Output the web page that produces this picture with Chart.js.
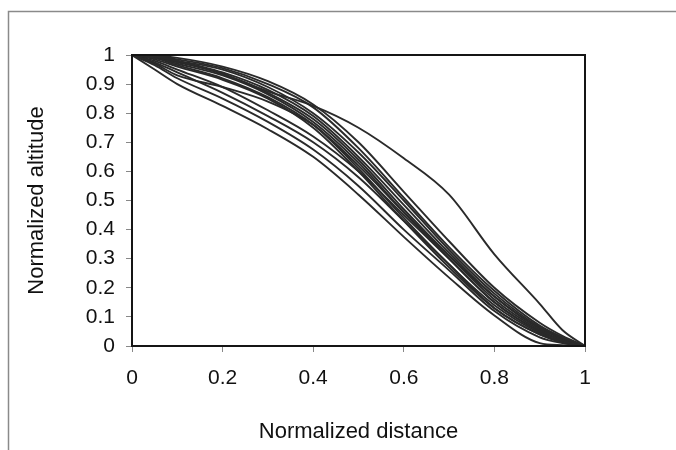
<!DOCTYPE html>
<html>
<head>
<meta charset="utf-8">
<script src="https://cdn.jsdelivr.net/npm/chart.js@4"></script>
<style>
  html, body { margin: 0; padding: 0; background: #fff; }
  #wrap { width: 676px; height: 450px; position: relative; }
</style>
</head>
<body>
<div id="wrap"><canvas id="c" width="676" height="450"></canvas></div>
<script>
// Normalized distance sample points
const xs = [0, 0.05, 0.1, 0.2, 0.3, 0.4, 0.5, 0.6, 0.7, 0.8, 0.9, 0.95, 1];

// Upper outlier curve
const curveO  = [1, 0.995, 0.98, 0.935, 0.875, 0.825, 0.75, 0.645, 0.52, 0.315, 0.145, 0.055, 0];
// Dense band curves
const curveB1 = [1, 0.998, 0.99, 0.96, 0.91, 0.83, 0.70, 0.53, 0.36, 0.20, 0.08, 0.035, 0];
const curveB2 = [1, 0.997, 0.985, 0.955, 0.90, 0.82, 0.68, 0.51, 0.34, 0.19, 0.07, 0.03, 0];
const curveB3 = [1, 0.995, 0.98, 0.95, 0.89, 0.80, 0.665, 0.50, 0.33, 0.18, 0.065, 0.028, 0];
const curveB4 = [1, 0.995, 0.98, 0.94, 0.88, 0.79, 0.65, 0.485, 0.32, 0.17, 0.06, 0.025, 0];
const curveB5 = [1, 0.99, 0.975, 0.935, 0.87, 0.78, 0.64, 0.47, 0.31, 0.16, 0.055, 0.02, 0];
const curveB6 = [1, 0.99, 0.97, 0.93, 0.865, 0.77, 0.63, 0.46, 0.30, 0.15, 0.05, 0.02, 0];
const curveB7 = [1, 0.99, 0.965, 0.92, 0.855, 0.76, 0.61, 0.44, 0.28, 0.14, 0.045, 0.015, 0];
const curveB8 = [1, 0.985, 0.96, 0.915, 0.85, 0.75, 0.60, 0.43, 0.27, 0.13, 0.04, 0.012, 0];
// Lower spread curves
const curveL1 = [1, 0.95, 0.90, 0.825, 0.745, 0.65, 0.52, 0.375, 0.235, 0.105, 0.01, 0.003, 0];
const curveL2 = [1, 0.965, 0.92, 0.85, 0.77, 0.675, 0.55, 0.40, 0.26, 0.12, 0.03, 0.01, 0];
const curveL3 = [1, 0.975, 0.94, 0.87, 0.79, 0.70, 0.58, 0.43, 0.28, 0.13, 0.04, 0.015, 0];
const curveL4 = [1, 0.98, 0.95, 0.89, 0.81, 0.72, 0.60, 0.45, 0.30, 0.15, 0.05, 0.02, 0];
const curveL5 = [1, 0.97, 0.93, 0.89, 0.84, 0.76, 0.62, 0.46, 0.31, 0.17, 0.06, 0.025, 0];

const allCurves = [curveO, curveB1, curveB2, curveB3, curveB4, curveB5, curveB6, curveB7, curveB8,
                   curveL1, curveL2, curveL3, curveL4, curveL5];

const xTitle = 'Normalized distance';
const yTitle = 'Normalized altitude';
const fmt = v => String(Math.round(v * 10) / 10);

const datasets = allCurves.map((ys, i) => ({
  label: 'c' + i,
  data: xs.map((x, k) => ({ x: x, y: ys[k] })),
  borderColor: '#2a2a2a',
  borderWidth: 1.9,
  pointRadius: 0,
  fill: false,
  cubicInterpolationMode: 'monotone'
}));

const framePlugin = {
  id: 'frame',
  beforeDraw(chart) {
    const ctx = chart.ctx;
    ctx.save();
    ctx.fillStyle = '#fff';
    ctx.fillRect(0, 0, chart.width, chart.height);
    ctx.strokeStyle = '#8a8a8a';
    ctx.lineWidth = 1.5;
    ctx.beginPath();
    ctx.moveTo(8.5, 450);
    ctx.lineTo(8.5, 11.5);
    ctx.lineTo(676, 11.5);
    ctx.stroke();
    ctx.restore();
  },
  afterDatasetsDraw(chart) {
    const a = chart.chartArea;
    const ctx = chart.ctx;
    ctx.save();
    ctx.strokeStyle = '#151515';
    ctx.lineWidth = 2;
    ctx.strokeRect(a.left, a.top, a.right - a.left, a.bottom - a.top);
    ctx.restore();
  }
};

new Chart(document.getElementById('c'), {
  type: 'line',
  data: { datasets },
  plugins: [framePlugin],
  options: {
    responsive: false,
    animation: false,
    layout: { padding: { left: 0, right: 91, top: 55, bottom: 0 } },
    plugins: { legend: { display: false }, tooltip: { enabled: false } },
    scales: {
      x: {
        type: 'linear',
        min: 0, max: 1,
        afterFit(scale) { scale.height = 104; },
        ticks: { stepSize: 0.2, callback: fmt, color: '#111', padding: 14, font: { family: 'Liberation Sans, Arial', size: 21 } },
        grid: { drawOnChartArea: false, tickLength: 6, color: '#888' },
        border: { display: false },
        title: { display: true, text: xTitle, color: '#111', padding: { top: 0, bottom: 5 }, font: { family: 'Liberation Sans, Arial', size: 22 } }
      },
      y: {
        type: 'linear',
        min: 0, max: 1,
        afterFit(scale) { scale.width = 132; },
        ticks: { stepSize: 0.1, callback: fmt, color: '#111', padding: 11, font: { family: 'Liberation Sans, Arial', size: 21 } },
        grid: { drawOnChartArea: false, tickLength: 6, color: '#888' },
        border: { display: false },
        title: { display: true, text: yTitle, color: '#111', padding: { top: 24, bottom: 0 }, font: { family: 'Liberation Sans, Arial', size: 22 } }
      }
    }
  }
});
</script>
</body>
</html>
